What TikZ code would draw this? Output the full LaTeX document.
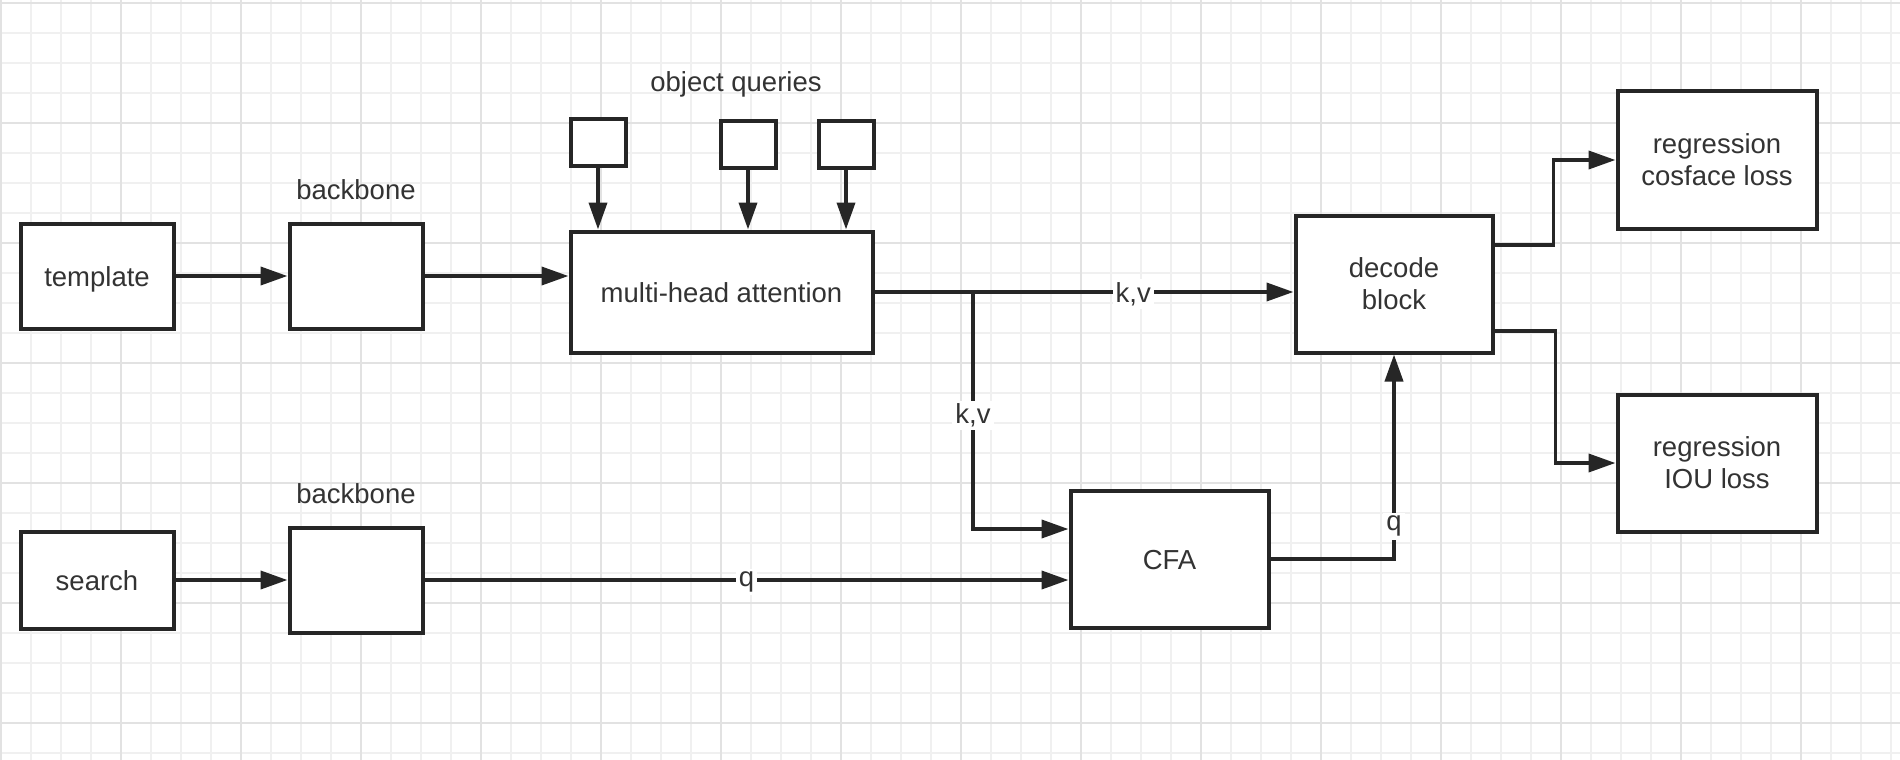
\documentclass[tikz,border=0pt]{standalone}
\usepackage{fontspec}
\setmainfont{Liberation Sans}
\usetikzlibrary{arrows.meta}
\definecolor{lineclr}{HTML}{262626}
\definecolor{txtclr}{HTML}{333333}
\definecolor{gridminor}{HTML}{F0F0F0}
\definecolor{gridmajor}{HTML}{E2E2E2}
\tikzset{
  box/.style={draw=lineclr, line width=4pt, fill=white, rectangle, inner sep=0pt,
    text=txtclr, align=center, font=\fontsize{27.5}{32}\selectfont},
  oneline/.style={text height=20pt, text depth=0pt},
  plain/.style={text=txtclr, inner sep=0pt, font=\fontsize{27.5}{32}\selectfont, oneline},
  lbl/.style={fill=white, text=txtclr, inner sep=3pt, font=\fontsize{27.5}{32}\selectfont},
  conn/.style={draw=lineclr, line width=3.8pt},
  arr/.style={conn, -{Triangle[length=27pt,width=18pt]}},
  minorline/.style={draw=gridminor, line width=1.5pt},
  majorline/.style={draw=gridmajor, line width=2pt}
}
\begin{document}
\begin{tikzpicture}[x=1pt,y=-1pt]
\useasboundingbox (0,0) rectangle (1900,760);
\fill[white] (0,0) rectangle (1900,760);
% grid
\foreach \i in {0,...,63} {\draw[minorline] ({1+30*\i},0) -- ({1+30*\i},760);}
\foreach \j in {0,...,25} {\draw[minorline] (0,{3+30*\j}) -- (1900,{3+30*\j});}
\foreach \i in {0,...,15} {\draw[majorline] ({1+120*\i},0) -- ({1+120*\i},760);}
\foreach \j in {0,...,6} {\draw[majorline] (0,{3+120*\j}) -- (1900,{3+120*\j});}

% nodes
\node[box, oneline, minimum width=153pt, minimum height=105pt] (tmpl) at (97,276) {template};
\node[box, minimum width=133pt, minimum height=105pt] (bb1) at (356,276) {};
\node[plain] (bb1lbl) at (356,189.5) {backbone};
\node[box, oneline, minimum width=302pt, minimum height=121pt] (mha) at (721.5,292) {multi-head attention};
\node[plain] (oq) at (736,82) {object queries};
\node[box, minimum width=55pt, minimum height=47pt] (q1) at (598,142) {};
\node[box, minimum width=55pt, minimum height=47pt] (q2) at (748,144) {};
\node[box, minimum width=55pt, minimum height=47pt] (q3) at (846,144) {};
\node[box, minimum width=197pt, minimum height=137pt] (dec) at (1394,284) {decode\\block};
\node[box, minimum width=199pt, minimum height=138pt] (cos) at (1717,160) {regression\\cosface loss};
\node[box, minimum width=199pt, minimum height=137pt] (iou) at (1717,463) {regression\\IOU loss};
\node[box, oneline, minimum width=198pt, minimum height=137pt] (cfa) at (1169.5,559) {CFA};
\node[box, oneline, minimum width=153pt, minimum height=97pt] (srch) at (97,580) {search};
\node[box, minimum width=133pt, minimum height=105pt] (bb2) at (356,580) {};
\node[plain] (bb2lbl) at (356,493.5) {backbone};

\coordinate (kv) at (973,292);
\coordinate (cfakv) at ([yshift=30pt]cfa.west);
\coordinate (cfaq) at ([yshift=-21pt]cfa.west);

% connectors
\draw[arr] (tmpl.east) -- (bb1.west);
\draw[arr] (bb1.east) -- (bb1.east -| mha.west);
\draw[arr] (q1.south) -- (q1.south |- mha.north);
\draw[arr] (q2.south) -- (q2.south |- mha.north);
\draw[arr] (q3.south) -- (q3.south |- mha.north);
\draw[conn] (mha.east) -- (kv);
\draw[arr] (kv) -- (kv -| dec.west) node[lbl, midway, yshift=-2pt] {k,v};
\draw[arr] (kv) -- (kv |- cfakv) node[lbl, pos=0.52] {k,v} -- (cfakv);
\draw[arr] (srch.east) -- (bb2.west);
\draw[arr] (bb2.east) -- (cfaq) node[lbl, midway, yshift=-2pt] {q};
\draw[arr] (cfa.east) -| (dec.south) node[lbl, pos=0.58] {q};
\draw[arr] ([yshift=39pt]dec.east) -- ++(59,0) |- (cos.west);
\draw[arr] ([yshift=-47pt]dec.east) -- ++(61,0) |- (iou.west);
\end{tikzpicture}
\end{document}
